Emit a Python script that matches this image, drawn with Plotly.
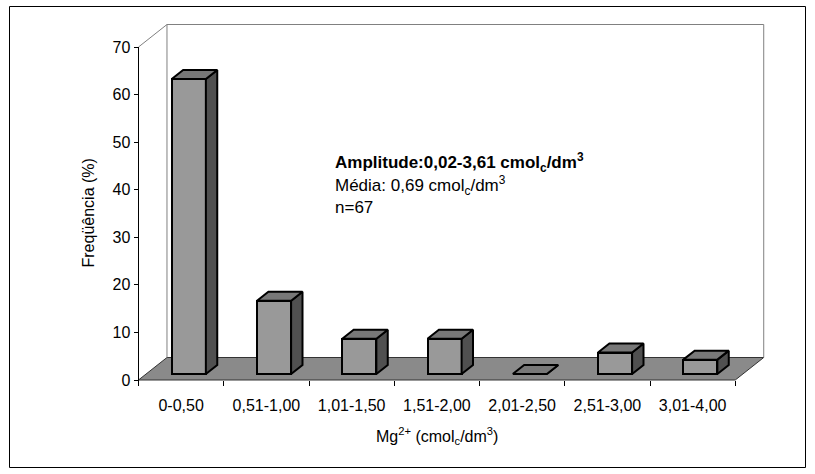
import plotly.graph_objects as go

# Magnesium (Mg2+) class frequencies
categories = ["0-0,50", "0,51-1,00", "1,01-1,50", "1,51-2,00", "2,01-2,50", "2,51-3,00", "3,01-4,00"]
frequencies = [62.0, 15.4, 7.4, 7.4, 0.0, 4.5, 3.0]
y_ticks = [0, 10, 20, 30, 40, 50, 60, 70]

# oblique 3-D look: floor depth offset expressed in axis units
DEPTH_X = 0.334
DEPTH_Y = 4.73
BAR_W = 0.4
D_FRONT = 0.27     # bar front plane, fraction of floor depth
D_BACK = 0.67      # bar back plane
Y_TOP = 70

FRONT = "#999999"
TOP = "#787878"
SIDE = "#505050"
FLOOR = "#8a8a8a"
WALL = "#808080"
FONT = "Liberation Sans, Arial, sans-serif"

W, H = 815, 474
ML, MR, MT, MB = 128, 36, 18, 88
PW, PH = W - ML - MR, H - MT - MB
X0_PX, X_UNIT = 138.5, 85.25
Y0_PX, Y_UNIT = 380.0, 333.0 / 70.0
x_range = [(ML - X0_PX) / X_UNIT, (W - MR - X0_PX) / X_UNIT]
y_range = [(Y0_PX - (H - MB)) / Y_UNIT, (Y0_PX - MT) / Y_UNIT]


def xp(px):
    return (px - ML) / PW


def yp(py):
    return (H - MB - py) / PH


n = len(categories)
fig = go.Figure()

# front faces of the bars
centers = [i + 0.5 + D_FRONT * DEPTH_X for i in range(n)]
fig.add_trace(go.Bar(
    x=centers, y=frequencies, base=D_FRONT * DEPTH_Y, width=BAR_W,
    marker=dict(color=FRONT, line=dict(color="black", width=2)),
    hoverinfo="skip", showlegend=False,
))

# side and top faces
ddx = (D_BACK - D_FRONT) * DEPTH_X
ddy = (D_BACK - D_FRONT) * DEPTH_Y
sx, sy, tx, ty = [], [], [], []
for i, v in enumerate(frequencies):
    xl = i + 0.5 - BAR_W / 2 + D_FRONT * DEPTH_X
    xr = xl + BAR_W
    y0 = D_FRONT * DEPTH_Y
    yt = y0 + v
    sx += [xr, xr + ddx, xr + ddx, xr, xr, None]
    sy += [y0, y0 + ddy, yt + ddy, yt, y0, None]
    tx += [xl, xr, xr + ddx, xl + ddx, xl, None]
    ty += [yt, yt, yt + ddy, yt + ddy, yt, None]

fig.add_trace(go.Scatter(x=sx, y=sy, mode="lines", fill="toself", fillcolor=SIDE,
                         line=dict(color="black", width=2), hoverinfo="skip", showlegend=False))
fig.add_trace(go.Scatter(x=tx, y=ty, mode="lines", fill="toself", fillcolor=TOP,
                         line=dict(color="black", width=2), hoverinfo="skip", showlegend=False))

# ticks at class boundaries on an overlaid axis
fig.add_trace(go.Scatter(x=[0], y=[0], xaxis="x2", mode="markers",
                         marker=dict(opacity=0), hoverinfo="skip", showlegend=False))

shapes = [
    # floor
    dict(type="path", xref="x", yref="y", layer="below",
         path=f"M 0,0 L {DEPTH_X},{DEPTH_Y} L {n + DEPTH_X},{DEPTH_Y} L {n},0 Z",
         fillcolor=FLOOR, line=dict(color="#333333", width=1)),
    # back wall
    dict(type="path", xref="x", yref="y", layer="below",
         path=(f"M {DEPTH_X},{DEPTH_Y} L {DEPTH_X},{Y_TOP + DEPTH_Y} "
               f"L {n + DEPTH_X},{Y_TOP + DEPTH_Y} L {n + DEPTH_X},{DEPTH_Y}"),
         line=dict(color=WALL, width=1)),
    # side wall top edge
    dict(type="line", xref="x", yref="y", layer="below",
         x0=0, y0=Y_TOP, x1=DEPTH_X, y1=Y_TOP + DEPTH_Y, line=dict(color=WALL, width=1)),
    # value axis line
    dict(type="line", xref="x", yref="y", layer="above",
         x0=0, y0=0, x1=0, y1=Y_TOP, line=dict(color="black", width=1)),
    # chart frame
    dict(type="rect", xref="paper", yref="paper",
         x0=xp(9.5), y0=yp(467.5), x1=xp(805.5), y1=yp(6.5),
         line=dict(color="black", width=1)),
]

annotations = [
    dict(xref="paper", yref="paper", x=xp(333), y=yp(162), xanchor="left", yanchor="middle",
         text="<b>Amplitude:0,02-3,61 cmol<sub>c</sub>/dm<sup>3</sup></b>",
         showarrow=False, font=dict(size=17, color="black", family=FONT)),
    dict(xref="paper", yref="paper", x=xp(333), y=yp(185), xanchor="left", yanchor="middle",
         text="Média: 0,69 cmol<sub>c</sub>/dm<sup>3</sup>",
         showarrow=False, font=dict(size=17, color="black", family=FONT)),
    dict(xref="paper", yref="paper", x=xp(333), y=yp(207), xanchor="left", yanchor="middle",
         text="n=67", showarrow=False, font=dict(size=17, color="black", family=FONT)),
    dict(xref="x", yref="paper", x=n / 2, y=yp(436), xanchor="center", yanchor="middle",
         text="Mg<sup>2+</sup> (cmol<sub>c</sub>/dm<sup>3</sup>)",
         showarrow=False, font=dict(size=16, color="black", family=FONT)),
    dict(xref="paper", yref="y", x=xp(88), y=Y_TOP / 2, xanchor="center", yanchor="middle",
         text="Freqüência (%)", textangle=-90,
         showarrow=False, font=dict(size=16, color="black", family=FONT)),
]

fig.update_layout(
    width=W, height=H,
    margin=dict(l=ML, r=MR, t=MT, b=MB, autoexpand=False),
    paper_bgcolor="white", plot_bgcolor="white",
    showlegend=False, bargap=0,
    font=dict(family=FONT, size=16, color="black"),
    xaxis=dict(range=x_range, anchor="free", position=yp(Y0_PX),
               tickvals=[i + 0.5 for i in range(n)], ticktext=categories,
               ticks="outside", ticklen=5, tickcolor="rgba(0,0,0,0)",
               ticklabelstandoff=6,
               showline=False, showgrid=False, zeroline=False, fixedrange=True),
    xaxis2=dict(range=x_range, overlaying="x", anchor="free", position=yp(Y0_PX),
                tickvals=list(range(n + 1)), showticklabels=False,
                ticks="outside", ticklen=5, tickcolor="black", tickwidth=1,
                showline=False, showgrid=False, zeroline=False, fixedrange=True),
    yaxis=dict(range=y_range, anchor="free", position=xp(X0_PX),
               tickvals=y_ticks, ticks="outside", ticklen=5, tickcolor="black",
               showline=False, showgrid=False, zeroline=False, fixedrange=True),
    shapes=shapes,
    annotations=annotations,
)

fig.write_html("out.html")
